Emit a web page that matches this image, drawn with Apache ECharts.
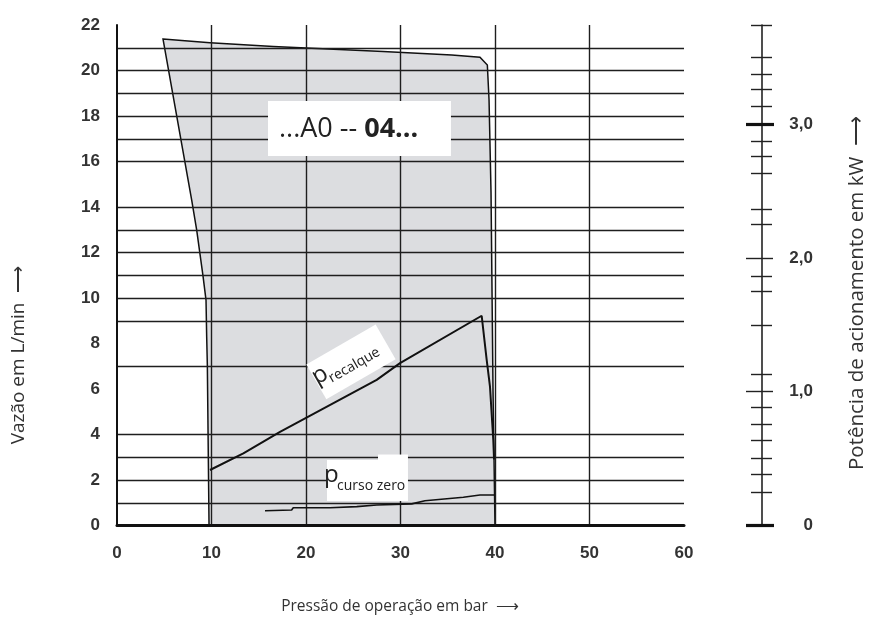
<!DOCTYPE html>
<html><head><meta charset="utf-8">
<script src="https://cdn.jsdelivr.net/npm/echarts@6/dist/echarts.min.js"></script>
<style>html,body{margin:0;padding:0;background:#fff}#c{width:876px;height:628px}</style>
</head><body><div id="c"></div>
<script>
// ---- data ----
const xLabelValues = [0, 10, 20, 30, 40, 50, 60];
const xGridValues = [10, 20, 30, 40, 50];
const yLabelValues = [0, 2, 4, 6, 8, 10, 12, 14, 16, 18, 20, 22];
const yGridValues = [1, 2, 3, 4, 7, 9, 10, 11, 12, 13, 14, 16, 17, 18, 19, 20, 21];
const powerMinorTicks = [0.25, 0.38, 0.5, 0.64, 0.76, 0.88, 1.13, 1.5, 1.75, 1.86, 2.25, 2.36, 2.63, 2.76, 2.87, 3.13, 3.26, 3.37, 3.5, 3.74];
const powerMajorTicks = [1, 2];
const powerBoldTicks = [0, 3];
const powerLabelValues = [0, 1, 2, 3];
const powerLabelTexts = ['0', '1,0', '2,0', '3,0'];
// operating envelope (pressure bar, flow L/min)
const envelope = [[4.87,21.38],[9.84,21.22],[16.54,21.05],[28.15,20.83],[35.42,20.68],[38.41,20.58],[39.19,20.24],[39.37,18.7],[39.58,14.62],[39.79,5.96],[40,0],[9.74,0],[9.56,7.05],[9.49,8.3],[9.42,9.91],[9.1,10.97],[8.43,12.99],[7.9,14.31]];
// drive power curves (plotted on flow scale)
const pRecalque = [[9.84,2.44],[13.37,3.17],[17.25,4.12],[27.48,6.4],[29.95,7.14],[38.59,9.22],[39.12,7.28],[39.47,6.1],[39.82,3.76],[39.9,2.9]];
const pCursoZero = [[15.66,0.65],[18.48,0.68],[18.65,0.78],[22.54,0.78],[25.37,0.83],[27.48,0.9],[31.19,0.95],[32.59,1.09],[36.65,1.24],[38.41,1.34],[40,1.34]];
// annotation anchors (data coords)
const boxModel = {x1: 15.98, y1: 18.66, x2: 35.34, y2: 16.24};
const boxRecalque = {x: 24.76, y: 7.19};
const boxCurso = {x1: 22.22, y1: 2.88, x2: 30.79, y2: 1.08, xs: 27.62, ys: 3.12};

const chart = echarts.init(document.getElementById('c'), null, {renderer: 'canvas'});
const tickFont = {fontFamily: 'Liberation Sans', fontWeight: 'bold', fontSize: 17, color: '#333'};
const gridLine = {color: '#1e1e1e', width: 1.4};

function rightAxis(o) {
  return Object.assign({
    type: 'value', gridIndex: 0, position: 'right', offset: 78, min: 0, max: 3.74,
    splitLine: {show: false}, axisLine: {show: false}, axisLabel: {show: false}, z: 3
  }, o);
}

chart.setOption({
  backgroundColor: '#fff',
  animation: false,
  grid: {left: 117, right: 192, top: 25, bottom: 102.5, containLabel: false, outerBoundsMode: 'none'},
  xAxis: {
    type: 'value', min: 0, max: 60, z: 3,
    axisLine: {show: true, lineStyle: {color: '#111', width: 3}},
    axisTick: {show: false, customValues: xGridValues},
    axisLabel: Object.assign({customValues: xLabelValues, margin: 19}, tickFont),
    splitLine: {show: true, customValues: xGridValues, lineStyle: gridLine}
  },
  yAxis: [
    {
      type: 'value', min: 0, max: 22, position: 'left', z: 3,
      axisLine: {show: true, lineStyle: {color: '#111', width: 2}},
      axisTick: {show: false, customValues: yGridValues},
      axisLabel: Object.assign({customValues: yLabelValues, margin: 17}, tickFont),
      splitLine: {show: true, customValues: yGridValues, lineStyle: gridLine}
    },
    rightAxis({axisLine: {show: true, lineStyle: {color: '#222', width: 1.6}},
      axisTick: {show: true, inside: false, length: 10, customValues: powerMinorTicks, lineStyle: {color: '#222', width: 1.4}}}),
    rightAxis({axisTick: {show: true, inside: true, length: 11, customValues: powerMinorTicks, lineStyle: {color: '#222', width: 1.4}}}),
    rightAxis({axisTick: {show: true, inside: true, length: 16, customValues: powerMajorTicks, lineStyle: {color: '#222', width: 1.4}}}),
    rightAxis({axisTick: {show: true, inside: false, length: 11, customValues: powerMajorTicks, lineStyle: {color: '#222', width: 1.4}}}),
    rightAxis({axisTick: {show: true, inside: true, length: 16, customValues: powerBoldTicks, lineStyle: {color: '#111', width: 3.2}}}),
    rightAxis({axisTick: {show: true, inside: false, length: 12, customValues: powerBoldTicks, lineStyle: {color: '#111', width: 3.2}},
      axisLabel: Object.assign({show: true, customValues: powerLabelValues, align: 'right', margin: 51,
        formatter: v => powerLabelTexts[powerLabelValues.indexOf(v)]}, tickFont)})
  ],
  series: [
    {
      type: 'custom', name: 'envelope', z: 1, silent: true, coordinateSystem: 'cartesian2d',
      data: [[0, 0]],
      renderItem: (params, api) => ({
        type: 'polygon',
        shape: {points: envelope.map(p => api.coord(p))},
        style: {fill: '#dcdde0', stroke: '#111', lineWidth: 1.5}
      })
    },
    {
      type: 'custom', name: 'labels', z: 5, silent: true, coordinateSystem: 'cartesian2d',
      data: [[0, 0]],
      renderItem: (params, api) => {
        const a = api.coord([boxModel.x1, boxModel.y1]);
        const b = api.coord([boxModel.x2, boxModel.y2]);
        const c1 = api.coord([boxCurso.x1, boxCurso.y1]);
        const c2 = api.coord([boxCurso.x2, boxCurso.y2]);
        const c3 = api.coord([boxCurso.xs, boxCurso.ys]);
        const r = api.coord([boxRecalque.x, boxRecalque.y]);
        const sf = {fontFamily: 'Open Sans', fill: '#222', verticalAlign: 'middle', align: 'left'};
        return {
          type: 'group',
          children: [
            {type: 'rect', shape: {x: a[0], y: a[1], width: b[0] - a[0], height: b[1] - a[1]}, style: {fill: '#fff'}},
            {type: 'text', x: a[0] + 11, y: (a[1] + b[1]) / 2 + 1,
              style: {text: '{r|...A0 -- }{b|04...}', verticalAlign: 'middle', align: 'left',
                rich: {r: {fontFamily: 'Open Sans', fontSize: 27, fill: '#222'},
                       b: {fontFamily: 'Open Sans', fontSize: 27, fontWeight: 'bold', fill: '#222'}}}},
            {type: 'rect', shape: {x: c1[0], y: c1[1], width: c2[0] - c1[0], height: c2[1] - c1[1]}, style: {fill: '#fff'}},
            {type: 'rect', shape: {x: c3[0], y: c3[1], width: c2[0] - c3[0], height: c1[1] - c3[1] + 1}, style: {fill: '#fff'}},
            {type: 'text', x: c1[0] - 3, y: c1[1] + 15, style: Object.assign({text: 'p', fontSize: 24}, sf)},
            {type: 'text', x: c1[0] + 10, y: c1[1] + 26, style: Object.assign({text: 'curso zero', fontSize: 14}, sf)},
            {type: 'group', x: r[0], y: r[1], rotation: 30 * Math.PI / 180,
              children: [
                {type: 'rect', shape: {x: -40, y: -20, width: 80, height: 40}, style: {fill: '#fff'}},
                {type: 'text', x: -41, y: -4, style: Object.assign({text: 'p', fontSize: 24}, sf)},
                {type: 'text', x: -27, y: 4.5, style: Object.assign({text: 'recalque', fontSize: 14}, sf)}
              ]}
          ]
        };
      }
    },
    {type: 'line', name: 'p recalque', z: 6, data: pRecalque, symbol: 'none', silent: true,
      lineStyle: {color: '#111', width: 2}},
    {type: 'line', name: 'p curso zero', z: 6, data: pCursoZero, symbol: 'none', silent: true,
      lineStyle: {color: '#111', width: 1.6}}
  ],
  graphic: [
    {type: 'text', x: 19, y: 355, rotation: Math.PI / 2, style: {text: 'Vazão em L/min  \u27F6', align: 'center', verticalAlign: 'middle', fontFamily: 'Open Sans', fontSize: 19, fill: '#333'}},
    {type: 'text', x: 857, y: 293, rotation: Math.PI / 2, style: {text: 'Potência de acionamento em kW  \u27F6', align: 'center', verticalAlign: 'middle', fontFamily: 'Open Sans', fontSize: 20.5, fill: '#333'}},
    {type: 'text', x: 400, y: 607, style: {text: 'Pressão de operação em bar  \u27F6', align: 'center', verticalAlign: 'middle', fontFamily: 'Open Sans', fontSize: 15.5, fill: '#333'}}
  ]
});
</script>
</body></html>
